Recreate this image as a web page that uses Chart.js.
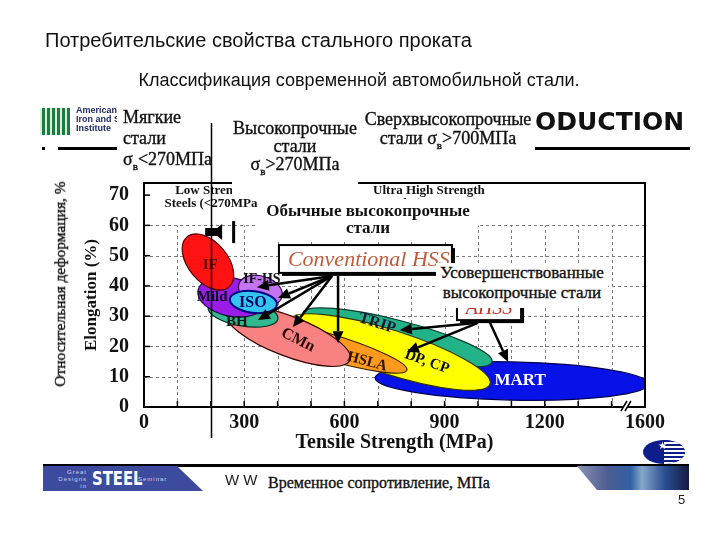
<!DOCTYPE html>
<html lang="ru">
<head>
<meta charset="utf-8">
<title>Классификация современной автомобильной стали</title>
<script src="https://cdn.jsdelivr.net/npm/chart.js@4.4.1/dist/chart.umd.min.js"></script>
<style>
  html, body { margin: 0; padding: 0; background: #fff; }
  #slide {
    position: relative; width: 720px; height: 540px; overflow: hidden; background: #fff;
    font-family: "Liberation Serif", "Times New Roman", serif; color: #111;
  }
  #steelChart { position: absolute; left: 0; top: 0; }
  .abs { position: absolute; white-space: nowrap; }
  .sans { font-family: "Liberation Sans", Arial, sans-serif; }
  .patch { position: absolute; background: #fff; white-space: nowrap; text-align: center; }
  .heavy { -webkit-text-stroke: 0.35px #111; }
  .rule { position: absolute; height: 3px; background: #000; }

  .title { left: 45px; top: 28px; font-size: 20px; line-height: 24px; color: #111; }
  .subtitle { left: 0; width: 718px; top: 69px; text-align: center; font-size: 18px; line-height: 22px; color: #111; }

  .aisi-mark {
    left: 40px; top: 108px; width: 30px; height: 27px; background-color: #1b7d3e;
    background-image: repeating-linear-gradient(90deg, rgba(255,255,255,0.85) 0 2px, transparent 2px 5px);
  }
  .aisi-name { left: 76px; top: 106px; font: bold 9px/9px "Liberation Sans", Arial, sans-serif; color: #1d2a66; }
  .prod { left: 535px; top: 107px; font: bold 25px/30px "DejaVu Sans", sans-serif; color: #111; }

  #mildNote { left: 117px; top: 107px; width: 90px; height: 68px; text-align: left; padding-left: 6px; box-sizing: border-box; font-size: 18px; line-height: 21px; }
  #hsNote { left: 232px; top: 112px; width: 126px; height: 87px; padding-top: 7px; box-sizing: border-box; font-size: 18px; line-height: 18px; }
  #uhsNote { left: 362px; top: 106px; width: 172px; height: 46px; padding-top: 4px; box-sizing: border-box; font-size: 18px; line-height: 19px; }
  #convNote { left: 258px; top: 199px; width: 220px; height: 41px; padding-top: 3px; box-sizing: border-box; font-weight: bold; font-size: 17px; line-height: 17px; }
  #advNote { left: 436px; top: 263px; width: 172px; height: 45px; box-sizing: border-box; font-size: 17px; line-height: 20px; }
  #yNote { left: 60px; top: 284px; transform: translate(-50%, -50%) rotate(-90deg); font-size: 15.5px; color: #111; }
  #xNote { left: 265px; top: 472px; padding: 0 3px; background: #fff; font-size: 16px; line-height: 22px; }

  .banner {
    left: 43px; top: 466px; width: 160px; height: 25px; background: #3d4b9e;
    clip-path: polygon(0 0, 134px 0, 160px 100%, 0 100%);
  }
  .banner-small { font: 6px/7px "Liberation Sans", Arial, sans-serif; letter-spacing: 1px; color: #cdd1ee; text-align: right; }
  .banner-steel { left: 49px; top: 1px; font: bold 19px/23px "DejaVu Sans", sans-serif; color: #fff; transform: scaleX(0.78); transform-origin: left center; }
  .photo {
    left: 577px; top: 466px; width: 112px; height: 24px;
    background: linear-gradient(90deg, #8a92b4 0%, #4c5b92 28%, #2f62a4 48%, #86a8cc 58%, #2b4f92 78%, #141a42 100%);
    clip-path: polygon(0 0, 100% 0, 100% 100%, 20px 100%);
  }
  .logo { left: 643px; top: 440px; width: 42px; height: 24px; border-radius: 50%; background: #0d1d8a; overflow: hidden; }
  .logo-stripes {
    position: absolute; left: 21px; top: 0; width: 21px; height: 24px;
    background: repeating-linear-gradient(180deg, #0d1d8a 0 2px, #fff 2px 4px);
  }
  .logo-star { left: 15px; top: 1px; font: 10px/10px "DejaVu Sans", sans-serif; color: #fff; }
</style>
</head>
<body>
<div id="slide">
  <canvas id="steelChart" width="720" height="540"></canvas>

  <div class="abs sans title">Потребительские свойства стального проката</div>
  <div class="abs sans subtitle">Классификация современной автомобильной стали.</div>

  <div class="abs aisi-mark"></div>
  <div class="abs aisi-name">American<br>Iron and Steel<br>Institute</div>
  <div class="abs" style="left:42px;top:147px;width:3px;height:3px;background:#000"></div>
  <div class="rule" style="left:58px;top:147px;width:60px"></div>
  <div class="rule" style="left:535px;top:147px;width:155px"></div>
  <div class="abs prod">ODUCTION</div>

  <div class="patch heavy" id="mildNote">Мягкие<br>стали<br>σ<sub style="font-size:11px">в</sub>&lt;270МПа</div>
  <div class="patch heavy" id="hsNote">Высокопрочные<br>стали<br>σ<sub style="font-size:11px">в</sub>&gt;270МПа</div>
  <div class="patch heavy" id="uhsNote">Сверхвысокопрочные<br>стали σ<sub style="font-size:11px">в</sub>&gt;700МПа</div>
  <div class="patch" id="convNote">Обычные высокопрочные<br>стали</div>
  <div class="patch heavy" id="advNote">Усовершенствованные<br>высокопрочные стали</div>
  <div class="abs heavy" id="yNote">Относительная деформация, %</div>

  <div class="rule" style="left:43px;top:464px;width:646px"></div>
  <div class="abs banner">
    <div class="abs banner-small" style="left:2px;top:3px;width:42px">Great<br>Designs<br>in</div>
    <div class="abs banner-steel">STEEL</div>
    <div class="abs banner-small" style="left:95px;top:10px">Seminar</div>
  </div>
  <div class="abs sans" style="left:225px;top:471px;font-size:15px;color:#222">W W</div>
  <div class="abs heavy" id="xNote">Временное сопротивление, МПа</div>
  <div class="abs photo"></div>
  <div class="abs logo"><div class="logo-stripes"></div><div class="abs logo-star">★</div></div>
  <div class="abs sans" style="left:678px;top:492px;font-size:13px;color:#222">5</div>
</div>

<script>
// steel grades, each one a band between two (strength, elongation) points
const grades = ['MART', 'TRIP', 'DP, CP', 'HSLA', 'CMn', 'BH', 'Mild', 'IF-HS', 'ISO', 'IF'];
const strengthLow = [692, 476, 437, 302, 245, 192, 162, 284, 257, 129];
const elongAtLow = [9.6, 31.1, 28.7, 28.1, 31.4, 33.0, 38.6, 40.6, 35.7, 56.2];
const strengthHigh = [1510, 1042, 1036, 787, 617, 401, 362, 413, 398, 254];
const elongAtHigh = [7.6, 14.9, 7.6, 12.2, 15.5, 29.1, 34.0, 36.3, 33.7, 39.6];
// half thickness of each band, elongation %
const elongSpread = [6.3, 5.6, 7.3, 4.3, 6.6, 4.3, 6.3, 4.8, 3.6, 6.5];

// axis ticks
const xGridTicks = [0, 100, 200, 300, 400, 500, 600, 700, 800, 900, 1000, 1100, 1200, 1300, 1400, 1500];
const xLabelTicks = [0, 300, 600, 900, 1200, 1500];
const xTickLabels = ['0', '300', '600', '900', '1200', '1600']; // axis is broken before the last label
const yTicks = [0, 10, 20, 30, 40, 50, 60, 70];
const yGridTop = 60;
const lowStrengthLimit = 200;

// grade colours and label placement (label position in MPa / %)
const gradeStyle = {
  'MART': { fill: '#0612e8', edge: '#000050', text: '#ffffff', at: [1126, 8.6], turn: 0, size: 17 },
  'TRIP': { fill: '#22b389', edge: '#0a3a2a', text: '#15153a', at: [698, 27.6], turn: 17, size: 16 },
  'DP, CP': { fill: '#ffff00', edge: '#333300', text: '#0c0c3a', at: [847, 14.9], turn: 20, size: 15 },
  'HSLA': { fill: '#ff9a1c', edge: '#3a2000', text: '#2a1500', at: [668, 14.9], turn: 15, size: 15 },
  'CMn': { fill: '#f88282', edge: '#300000', text: '#2a0a0a', at: [461, 22.1], turn: 27, size: 16 },
  'BH': { fill: '#31b88f', edge: '#063020', text: '#0a1a14', at: [278, 28.1], turn: 0, size: 15 },
  'Mild': { fill: '#9a1ce6', edge: '#200040', text: '#0a0a20', at: [204, 36.3], turn: 0, size: 15 },
  'IF-HS': { fill: '#c474f0', edge: '#300050', text: '#111111', at: [353, 42.3], turn: 0, size: 14 },
  'ISO': { fill: '#35c4f0', edge: '#000080', text: '#000060', at: [326, 34.4], turn: 0, size: 16 },
  'IF': { fill: '#ff1212', edge: '#500000', text: '#5a0000', at: [198, 46.9], turn: 0, size: 15 },
};

// annotation boxes and arrows (MPa / %)
const conventionalBox = { from: [404, 53.5], to: [922, 44.3], text: 'Conventional HSS' };
const advancedBox = { from: [937, 36.7], to: [1129, 28.7], text: 'AHSS' };
const conventionalArrows = [
  [[563, 43.3], [338, 39.6]],
  [[563, 43.3], [401, 36.0]],
  [[563, 43.3], [341, 28.7]],
  [[563, 43.3], [446, 26.4]],
  [[581, 43.3], [581, 21.1]],
];
const advancedArrows = [
  [[1000, 27.8], [766, 25.4]],
  [[1000, 27.8], [787, 18.2]],
  [[1036, 27.8], [1090, 14.9]],
];
const rangeNotes = [
  { at: [207, 71.4], text: 'Low Strength' },
  { at: [207, 67.1], text: 'Steels (<270MPa)' },
  { at: [853, 71.4], text: 'Ultra High Strength' },
  { at: [853, 67.1], text: 'Steels (>700MPa)' },
];
const lowStrengthArrow = { tip: [204, 57.8], tail: [264, 57.8] };

const serif = '"Liberation Serif", "Times New Roman", serif';

function drawArrow(ctx, x1, y1, x2, y2) {
  const ang = Math.atan2(y2 - y1, x2 - x1);
  const head = 12;
  const half = 5.5;
  const bx = x2 - head * Math.cos(ang);
  const by = y2 - head * Math.sin(ang);
  ctx.beginPath();
  ctx.moveTo(x1, y1);
  ctx.lineTo(bx, by);
  ctx.stroke();
  ctx.beginPath();
  ctx.moveTo(x2, y2);
  ctx.lineTo(bx + half * Math.sin(ang), by - half * Math.cos(ang));
  ctx.lineTo(bx - half * Math.sin(ang), by + half * Math.cos(ang));
  ctx.closePath();
  ctx.fill();
}

function drawFramedBox(ctx, x1, y1, x2, y2) {
  ctx.fillStyle = '#000';
  ctx.fillRect(x1 + 3, y1 + 3, x2 - x1, y2 - y1);
  ctx.fillStyle = '#fff';
  ctx.fillRect(x1, y1, x2 - x1, y2 - y1);
  ctx.lineWidth = 2;
  ctx.strokeStyle = '#000';
  ctx.strokeRect(x1, y1, x2 - x1, y2 - y1);
}

const steelBands = {
  id: 'steelBands',

  beforeDatasetsDraw(chart) {
    const { ctx, chartArea: a, scales: { x, y } } = chart;
    ctx.save();
    // dashed grid, only below the 60 % line
    ctx.strokeStyle = '#7a7a7a';
    ctx.lineWidth = 1;
    ctx.setLineDash([3, 3]);
    const top = y.getPixelForValue(yGridTop);
    xGridTicks.forEach(v => {
      if (v <= x.min || v >= x.max) return;
      const px = Math.round(x.getPixelForValue(v)) + 0.5;
      ctx.beginPath();
      ctx.moveTo(px, a.bottom);
      ctx.lineTo(px, top);
      ctx.stroke();
    });
    yTicks.forEach(v => {
      if (v <= y.min || v > yGridTop) return;
      const py = Math.round(y.getPixelForValue(v)) + 0.5;
      ctx.beginPath();
      ctx.moveTo(a.left, py);
      ctx.lineTo(a.right, py);
      ctx.stroke();
    });
    ctx.setLineDash([]);
    // inward tick marks
    ctx.strokeStyle = '#000';
    ctx.lineWidth = 1.5;
    xGridTicks.forEach(v => {
      const px = x.getPixelForValue(v);
      ctx.beginPath();
      ctx.moveTo(px, a.bottom);
      ctx.lineTo(px, a.bottom - 6);
      ctx.stroke();
    });
    yTicks.forEach(v => {
      const py = y.getPixelForValue(v);
      ctx.beginPath();
      ctx.moveTo(a.left, py);
      ctx.lineTo(a.left + 6, py);
      ctx.stroke();
    });
    ctx.restore();
  },

  afterDatasetsDraw(chart) {
    const { ctx, chartArea: a, scales: { x, y } } = chart;
    const px = (p) => [x.getPixelForValue(p[0]), y.getPixelForValue(p[1])];

    // range notes at the top of the plot
    ctx.save();
    ctx.fillStyle = '#111';
    ctx.font = `bold 13px ${serif}`;
    ctx.textAlign = 'center';
    ctx.textBaseline = 'middle';
    rangeNotes.forEach(n => {
      const [tx, ty] = px(n.at);
      ctx.fillText(n.text, tx, ty);
    });

    // low strength arrow
    const [tipX, tipY] = px(lowStrengthArrow.tip);
    const [tailX] = px(lowStrengthArrow.tail);
    ctx.fillStyle = '#000';
    ctx.beginPath();
    ctx.moveTo(tipX, tipY);
    ctx.lineTo(tipX + 10, tipY - 8);
    ctx.lineTo(tipX + 10, tipY + 8);
    ctx.closePath();
    ctx.fill();
    ctx.fillRect(tipX + 9, tipY - 4, tailX - 36 - tipX, 8);
    ctx.fillRect(tipX + 20, tipY - 11, 3, 22);
    ctx.restore();

    // grade bands
    ctx.save();
    ctx.beginPath();
    ctx.rect(a.left, a.top, a.right - a.left, a.bottom - a.top);
    ctx.clip();
    grades.forEach((grade, i) => {
      const st = gradeStyle[grade];
      const [p1, p2] = chart.getDatasetMeta(i).data;
      const cx = (p1.x + p2.x) / 2;
      const cy = (p1.y + p2.y) / 2;
      const len = Math.hypot(p2.x - p1.x, p2.y - p1.y) / 2;
      const ang = Math.atan2(p2.y - p1.y, p2.x - p1.x);
      const half = Math.abs(y.getPixelForValue(0) - y.getPixelForValue(elongSpread[i]));
      ctx.beginPath();
      ctx.ellipse(cx, cy, len, half, ang, 0, Math.PI * 2);
      ctx.fillStyle = st.fill;
      ctx.fill();
      ctx.lineWidth = grade === 'ISO' ? 2 : 1.2;
      ctx.strokeStyle = st.edge;
      ctx.stroke();
    });
    grades.forEach(grade => {
      const st = gradeStyle[grade];
      const [lx, ly] = px(st.at);
      ctx.save();
      ctx.translate(lx, ly);
      ctx.rotate(st.turn * Math.PI / 180);
      ctx.font = `bold ${st.size}px ${serif}`;
      ctx.fillStyle = st.text;
      ctx.textAlign = 'center';
      ctx.textBaseline = 'middle';
      ctx.fillText(grade, 0, 0);
      ctx.restore();
    });
    ctx.restore();

    // conventional / advanced HSS boxes and arrows
    ctx.save();
    [conventionalBox, advancedBox].forEach((box, k) => {
      const [x1, y1] = px(box.from);
      const [x2, y2] = px(box.to);
      drawFramedBox(ctx, x1, y1, x2, y2);
      ctx.font = k === 0 ? `italic 22px ${serif}` : `italic 20px ${serif}`;
      ctx.fillStyle = k === 0 ? '#bf5b3c' : '#c0392b';
      ctx.textBaseline = 'middle';
      ctx.textAlign = k === 0 ? 'left' : 'center';
      ctx.fillText(box.text, k === 0 ? x1 + 9 : (x1 + x2) / 2, (y1 + y2) / 2 + 1);
    });
    ctx.strokeStyle = '#000';
    ctx.fillStyle = '#000';
    ctx.lineWidth = 2.5;
    conventionalArrows.concat(advancedArrows).forEach(([from, to]) => {
      const [x1, y1] = px(from);
      const [x2, y2] = px(to);
      drawArrow(ctx, x1, y1, x2, y2);
    });
    ctx.restore();
  },

  afterDraw(chart) {
    const { ctx, chartArea: a, scales: { x } } = chart;
    ctx.save();
    ctx.strokeStyle = '#000';
    ctx.lineWidth = 2;
    ctx.beginPath();
    ctx.moveTo(a.left, a.top);
    ctx.lineTo(a.right, a.top);
    ctx.lineTo(a.right, a.bottom);
    ctx.stroke();

    // axis break mark
    const bx = x.getPixelForValue(1440);
    ctx.fillStyle = '#fff';
    ctx.beginPath();
    ctx.moveTo(bx - 4, a.bottom + 4);
    ctx.lineTo(bx + 2, a.bottom - 6);
    ctx.lineTo(bx + 6, a.bottom - 6);
    ctx.lineTo(bx, a.bottom + 4);
    ctx.closePath();
    ctx.fill();
    ctx.lineWidth = 1.5;
    [[bx - 4, bx + 2], [bx, bx + 6]].forEach(([s, e]) => {
      ctx.beginPath();
      ctx.moveTo(s, a.bottom + 4);
      ctx.lineTo(e, a.bottom - 6);
      ctx.stroke();
    });

    // slide divider at the low strength limit
    const lx = Math.round(x.getPixelForValue(lowStrengthLimit)) + 0.5;
    ctx.lineWidth = 1.5;
    ctx.beginPath();
    ctx.moveTo(lx, 123);
    ctx.lineTo(lx, 438);
    ctx.stroke();
    ctx.restore();
  },
};

const datasets = grades.map((grade, i) => ({
  label: grade,
  data: [
    { x: strengthLow[i], y: elongAtLow[i] },
    { x: strengthHigh[i], y: elongAtHigh[i] },
  ],
  showLine: false,
  pointRadius: 0,
  backgroundColor: gradeStyle[grade].fill,
  borderColor: gradeStyle[grade].edge,
}));

const tickFont = { family: serif, size: 20, weight: 'bold' };

new Chart(document.getElementById('steelChart'), {
  type: 'scatter',
  data: { datasets },
  options: {
    responsive: false,
    animation: false,
    events: [],
    layout: { padding: { left: 70, top: 183, right: 75, bottom: 73 } },
    plugins: {
      legend: { display: false },
      tooltip: { enabled: false },
    },
    scales: {
      x: {
        type: 'linear',
        min: 0,
        max: 1500,
        afterBuildTicks: (scale) => { scale.ticks = xGridTicks.map(v => ({ value: v })); },
        afterFit: (scale) => { scale.height = 60; },
        grid: { display: false, drawTicks: false },
        border: { display: true, color: '#000', width: 2 },
        ticks: {
          autoSkip: false,
          maxRotation: 0,
          padding: 4,
          color: '#111',
          font: tickFont,
          callback: (v) => {
            const i = xLabelTicks.indexOf(v);
            return i < 0 ? '' : xTickLabels[i];
          },
        },
        title: {
          display: true,
          text: 'Tensile Strength (MPa)',
          color: '#111',
          font: { family: serif, size: 20, weight: 'bold' },
          padding: { top: 0, bottom: 12 },
        },
      },
      y: {
        type: 'linear',
        min: 0,
        max: 74,
        afterBuildTicks: (scale) => { scale.ticks = yTicks.map(v => ({ value: v })); },
        afterFit: (scale) => { scale.width = 74; },
        grid: { display: false, drawTicks: false },
        border: { display: true, color: '#000', width: 2 },
        ticks: {
          autoSkip: false,
          padding: 15,
          color: '#111',
          font: tickFont,
        },
        title: {
          display: true,
          text: 'Elongation (%)',
          color: '#111',
          font: { family: serif, size: 17, weight: 'bold' },
          padding: { top: 11, bottom: 0 },
        },
      },
    },
  },
  plugins: [steelBands],
});
</script>
</body>
</html>
